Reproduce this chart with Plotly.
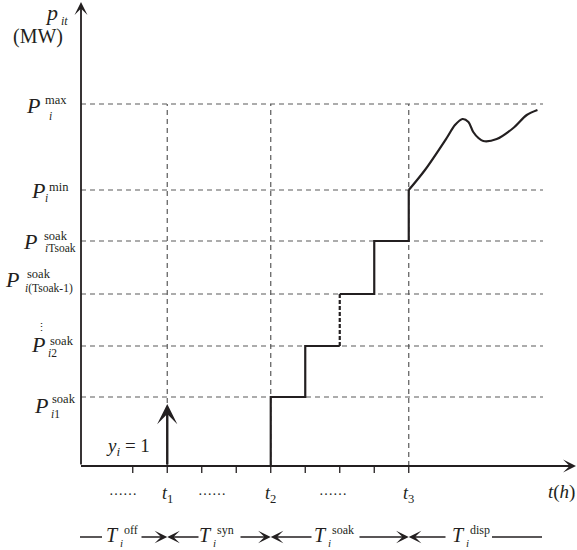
import plotly.graph_objects as go

# ---------------- data ----------------
level_values = [69, 120, 172, 225, 276, 362]          # P_i1^soak, P_i2^soak, P_i(Tsoak-1)^soak, P_iTsoak^soak, P_i^min, P_i^max
level_sup = ["soak", "soak", "soak", "soak", "min", "max"]
level_sub = ["<i>i</i>1", "<i>i</i>2", "<i>i</i>(Tsoak-1)", "<i>i</i>Tsoak", "<i>i</i>", "<i>i</i>"]
tick_hours = [1.5, 2.5, 3.5, 4.5, 5.5, 6.5, 7.5, 8.5, 9.5]
t_marks = [2.5, 5.5, 9.5]
t_labels = ["1", "2", "3"]
step_t = [0, 5.5, 5.5, 6.5, 6.5, 7.5, 7.5, 8.5, 8.5, 9.5, 9.5]
step_p = [0, 0, 69, 69, 120, 120, 172, 172, 225, 225, 276]
curve_t = [9.5, 9.97, 10.6, 10.84, 11.06, 11.23, 11.37, 11.52, 11.66, 12.05, 12.53, 12.92, 13.23]
curve_p = [276, 296, 328, 341, 347, 344, 334, 328, 325, 327, 338, 351, 356]
period_sup = ["off", "syn", "soak", "disp"]

# ---------------- layout helpers ----------------
W, H = 577, 550
X0, UNIT, Y0 = 81.0, 34.5, 466.0
def px(x):
    return (x - X0) / UNIT
def py(y):
    return Y0 - y

FONT = "Liberation Serif"
INK = "#231f20"
GRID = "#5a5a5a"

fig = go.Figure()

# dashed guides
x_end = px(543)
for v in level_values:
    fig.add_shape(type="line", x0=0, x1=x_end, y0=v, y1=v, layer="below",
                  line=dict(color=GRID, width=1.2, dash="5px,4px"))
for t in t_marks:
    fig.add_shape(type="line", x0=t, x1=t, y0=0, y1=max(level_values), layer="below",
                  line=dict(color=GRID, width=1.2, dash="5px,4px"))

# ticks
for t in tick_hours:
    fig.add_shape(type="line", x0=t, x1=t, y0=0, y1=-7, line=dict(color=INK, width=1.3))

# step trajectory
fig.add_trace(go.Scatter(x=step_t[:6], y=step_p[:6], mode="lines",
                         line=dict(color=INK, width=2.2), hoverinfo="skip", showlegend=False))
fig.add_trace(go.Scatter(x=step_t[5:7], y=step_p[5:7], mode="lines",
                         line=dict(color=INK, width=2.2, dash="4px,2px"), hoverinfo="skip", showlegend=False))
fig.add_trace(go.Scatter(x=step_t[6:], y=step_p[6:], mode="lines",
                         line=dict(color=INK, width=2.2), hoverinfo="skip", showlegend=False))
fig.add_trace(go.Scatter(x=curve_t, y=curve_p, mode="lines",
                         line=dict(color=INK, width=2.2, shape="spline", smoothing=0.9),
                         hoverinfo="skip", showlegend=False))

def arrow(x, y, ax, ay, width, size, head=3):
    fig.add_annotation(x=x, y=y, ax=ax, ay=ay, xref="x", yref="y", axref="x", ayref="y",
                       text="", showarrow=True, arrowhead=head, arrowsize=size,
                       arrowwidth=width, arrowcolor=INK, standoff=0)

def text(x, y, s, size, xanchor="center", yanchor="middle"):
    fig.add_annotation(x=x, y=y, xref="x", yref="y", text=s, showarrow=False,
                       xanchor=xanchor, yanchor=yanchor,
                       font=dict(family=FONT, size=size, color=INK))

# axes
arrow(0, py(2), 0, 0, 1.8, 1.2)
arrow(px(576), 0, 0, 0, 1.8, 1.2)
# start-up arrow at t1
arrow(t_marks[0], py(404), t_marks[0], 0, 2.4, 1.4)

# y level labels
P_dy = [8, -2, -15, 0, 0, 1]
P_right = [50, 47, 21, 39, 47, 42]
sup_x = [50, 48, 25, 42, 47, 43]
sup_dy = [2, -5, -20, -5, -3, -4]
sub_x = [49, 46, 23, 43, 43, 47]
sub_dy = [17, 7, -6, 7, 8, 12]
for i, v in enumerate(level_values):
    ypx = Y0 - v
    text(px(P_right[i]), py(ypx + P_dy[i]), "<i>P</i>", 22, xanchor="right")
    text(px(sup_x[i]), py(ypx + sup_dy[i]), level_sup[i], 12.5, xanchor="left")
    text(px(sub_x[i]), py(ypx + sub_dy[i]), level_sub[i], 11.5, xanchor="left")
text(px(41), py(327), "⋮", 11)

# y axis title
text(px(60), py(12), "<i>p</i>", 22, xanchor="right")
text(px(59), py(21), "<i>it</i>", 12, xanchor="left")
text(px(38), py(36), "(MW)", 20)

# y_i = 1
text(px(128), py(447), "<i>y</i><sub><i>i</i></sub> = 1", 19)

# x labels
for t, lab in zip(t_marks, t_labels):
    text(t, py(494), "<i>t</i><sub>%s</sub>" % lab, 18)
for xd in [123, 212, 333]:
    text(px(xd), py(490), "……", 14)
text(px(577), py(492), "<i>t</i>(<i>h</i>)", 19, xanchor="right")

# period row
row = py(537)
fig.add_shape(type="line", x0=px(80), x1=px(102), y0=row, y1=row, line=dict(color=INK, width=1.5))
fig.add_shape(type="line", x0=px(492), x1=px(542), y0=row, y1=row, line=dict(color=INK, width=1.5))
tails_left = [140, 239, 358]
tails_right = [200, 313, 447]
for t, tl, tr in zip(t_marks, tails_left, tails_right):
    arrow(t, row, px(tl), row, 1.5, 1.4)
    arrow(t, row, px(tr), row, 1.5, 1.4)
T_right = [121, 214, 329, 467]
for xr, s in zip(T_right, period_sup):
    text(px(xr), py(535), "<i>T</i>", 20, xanchor="right")
    text(px(xr + 1), py(530), s, 12, xanchor="left")
    text(px(xr - 3), py(543), "<i>i</i>", 11, xanchor="left")

fig.update_layout(
    width=W, height=H, margin=dict(l=0, r=0, t=0, b=0),
    paper_bgcolor="white", plot_bgcolor="white",
    xaxis=dict(range=[px(0), px(W)], visible=False, fixedrange=True),
    yaxis=dict(range=[py(H), py(0)], visible=False, fixedrange=True),
    showlegend=False,
)
fig.write_html("out.html", config={"displayModeBar": False},
               post_script="document.body.style.margin='0';document.body.style.overflow='hidden';")
